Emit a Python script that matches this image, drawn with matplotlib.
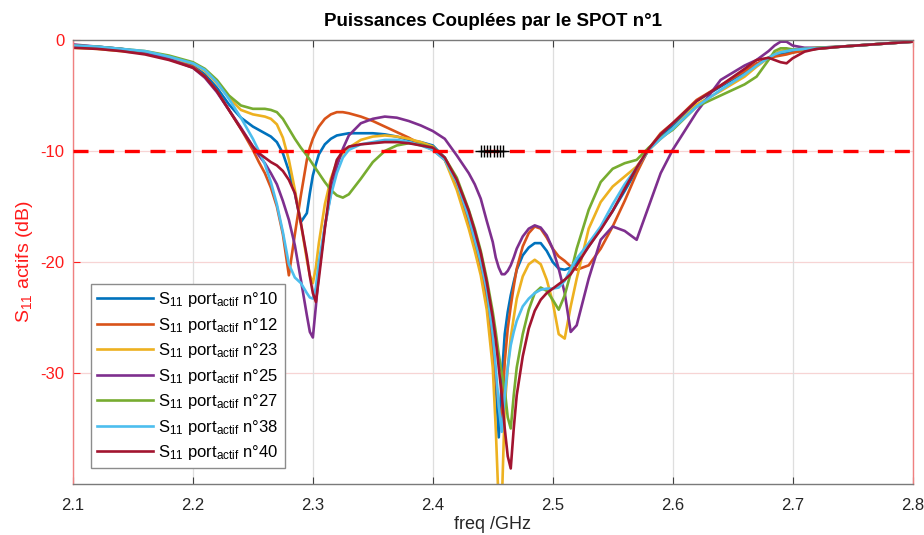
import matplotlib
matplotlib.use("Agg")
import matplotlib.pyplot as plt

plt.rcParams['font.family'] = ['Liberation Sans', 'DejaVu Sans']
plt.rcParams['mathtext.fontset'] = 'custom'
plt.rcParams['mathtext.rm'] = 'Liberation Sans'
plt.rcParams['mathtext.it'] = 'Liberation Sans:italic'
plt.rcParams['mathtext.bf'] = 'Liberation Sans:bold'

# Frequency points (GHz), denser around the resonances
freq = ([2.10, 2.12, 2.14, 2.16, 2.18, 2.20]
        + [2.21, 2.22, 2.23, 2.24, 2.25, 2.255, 2.26, 2.265, 2.27, 2.275, 2.28, 2.285, 2.29, 2.295, 2.2975]
        + [2.30, 2.3025, 2.305, 2.31, 2.315, 2.32, 2.325, 2.33, 2.34, 2.35, 2.36, 2.37, 2.38, 2.39, 2.40]
        + [2.41, 2.42, 2.43, 2.435, 2.44, 2.445, 2.45, 2.4525, 2.455, 2.4575, 2.46, 2.4625, 2.465, 2.4675]
        + [2.47, 2.475, 2.48, 2.485, 2.49, 2.495, 2.50, 2.505, 2.51, 2.515, 2.52]
        + [2.53, 2.54, 2.55, 2.56, 2.57, 2.58, 2.59, 2.60]
        + [2.62, 2.64, 2.66, 2.67, 2.68, 2.685, 2.69, 2.695, 2.70, 2.71, 2.72, 2.74, 2.76, 2.78, 2.80])

# Active S11 (dB) for each excited port
s11_p10 = ([-0.5, -0.6, -0.8, -1.1, -1.6, -2.3]
           + [-3.1, -4.3, -5.8, -7.0, -7.8, -8.1, -8.4, -8.7, -9.2, -10.2, -11.8, -13.8, -16.4, -15.6, -13.8]
           + [-12.2, -11.2, -10.3, -9.4, -8.9, -8.6, -8.5, -8.4, -8.4, -8.4, -8.5, -8.7, -9.0, -9.2, -9.5]
           + [-10.6, -12.8, -16.0, -18.0, -20.0, -22.8, -27.0, -31.0, -35.8, -30.5, -26.5, -24.5, -23.0, -21.8]
           + [-20.7, -19.4, -18.7, -18.3, -18.3, -19.0, -20.0, -20.6, -20.7, -20.5, -20.0]
           + [-18.6, -17.0, -15.4, -13.6, -11.7, -9.9, -8.7, -7.7]
           + [-5.5, -4.2, -2.9, -2.2, -1.6, -1.4, -1.3, -1.2, -1.1, -0.9, -0.8, -0.6, -0.45, -0.3, -0.15])

s11_p12 = ([-0.6, -0.7, -0.9, -1.2, -1.7, -2.4]
           + [-3.3, -4.6, -6.3, -8.0, -9.9, -11.0, -12.0, -13.3, -15.0, -17.5, -21.2, -17.5, -14.0, -10.8, -9.7]
           + [-8.9, -8.3, -7.8, -7.1, -6.7, -6.5, -6.5, -6.6, -6.9, -7.3, -7.8, -8.3, -8.8, -9.4, -9.9]
           + [-10.8, -13.0, -16.5, -18.5, -20.8, -23.8, -28.0, -30.5, -33.0, -34.3, -29.0, -26.0, -24.0, -22.2]
           + [-20.6, -18.6, -17.4, -16.8, -17.0, -17.8, -18.8, -19.5, -19.9, -20.4, -20.7]
           + [-20.3, -18.8, -16.8, -14.5, -12.0, -9.8, -8.4, -7.5]
           + [-5.4, -4.1, -2.8, -2.1, -1.7, -1.5, -1.4, -1.3, -1.15, -0.95, -0.8, -0.6, -0.45, -0.3, -0.15])

s11_p23 = ([-0.7, -0.8, -1.0, -1.2, -1.6, -2.1]
           + [-2.8, -3.9, -5.2, -6.3, -6.7, -6.8, -6.9, -7.1, -7.6, -8.8, -10.8, -13.5, -16.5, -19.8, -21.2]
           + [-21.9, -20.5, -18.3, -14.8, -12.5, -11.0, -10.2, -9.7, -9.0, -8.7, -8.6, -8.7, -8.9, -9.2, -9.6]
           + [-10.8, -13.5, -17.0, -19.0, -21.2, -24.3, -29.5, -35.0, -42.0, -42.0, -33.0, -29.5, -26.8, -25.0]
           + [-23.3, -21.3, -20.2, -19.8, -20.2, -21.6, -23.6, -26.5, -26.9, -24.0, -21.5]
           + [-17.0, -14.6, -13.2, -12.3, -11.4, -9.9, -8.9, -8.0]
           + [-5.8, -4.6, -3.3, -2.4, -1.6, -1.25, -1.0, -0.9, -0.85, -0.8, -0.75, -0.6, -0.45, -0.3, -0.15])

s11_p25 = ([-0.4, -0.6, -0.8, -1.1, -1.7, -2.5]
           + [-3.4, -4.7, -6.3, -7.9, -9.6, -10.4, -11.1, -12.0, -13.0, -14.5, -16.2, -18.5, -21.6, -24.8, -26.3]
           + [-26.8, -24.0, -21.0, -16.8, -13.8, -11.4, -9.8, -8.6, -7.5, -7.1, -6.9, -7.0, -7.3, -7.7, -8.2]
           + [-8.9, -10.4, -12.0, -13.0, -14.3, -16.3, -18.2, -19.6, -20.5, -21.1, -21.1, -20.8, -20.3, -19.6]
           + [-18.8, -17.7, -17.0, -16.7, -16.9, -17.6, -18.8, -20.6, -22.8, -26.3, -25.7]
           + [-21.5, -18.0, -16.8, -17.2, -18.0, -15.0, -12.0, -9.9]
           + [-6.5, -3.6, -2.3, -1.8, -1.0, -0.5, -0.15, -0.15, -0.5, -0.7, -0.7, -0.6, -0.45, -0.3, -0.15])

s11_p27 = ([-0.5, -0.6, -0.8, -1.0, -1.4, -2.0]
           + [-2.6, -3.6, -5.0, -5.9, -6.2, -6.2, -6.2, -6.3, -6.5, -7.1, -8.0, -8.9, -9.7, -10.4, -10.8]
           + [-11.2, -11.6, -12.0, -12.8, -13.5, -14.0, -14.2, -13.9, -12.5, -11.0, -10.0, -9.5, -9.3, -9.4, -9.7]
           + [-10.6, -12.4, -15.3, -17.0, -19.0, -21.5, -24.5, -26.3, -28.3, -30.0, -31.5, -34.0, -35.0, -32.0]
           + [-29.5, -26.5, -24.3, -22.8, -22.3, -22.6, -23.4, -24.3, -23.0, -21.0, -18.8]
           + [-15.3, -12.8, -11.6, -11.1, -10.8, -9.7, -8.8, -8.1]
           + [-6.0, -5.0, -4.0, -3.3, -1.8, -1.0, -0.75, -0.75, -0.85, -0.8, -0.7, -0.6, -0.45, -0.3, -0.15])

s11_p38 = ([-0.5, -0.6, -0.8, -1.0, -1.5, -2.1]
           + [-2.7, -3.8, -5.3, -7.0, -8.9, -10.0, -11.2, -12.8, -14.8, -17.3, -20.2, -21.4, -21.9, -22.8, -23.2]
           + [-23.3, -22.3, -20.0, -16.8, -14.0, -12.0, -10.6, -9.9, -9.4, -9.2, -9.0, -9.0, -9.2, -9.5, -9.9]
           + [-10.8, -12.8, -16.0, -18.0, -20.0, -22.5, -26.5, -29.5, -33.0, -35.3, -32.0, -29.5, -27.5, -26.3]
           + [-25.3, -24.0, -23.3, -22.8, -22.5, -22.4, -22.4, -22.3, -21.7, -20.6, -19.7]
           + [-18.3, -16.8, -14.8, -13.0, -11.5, -9.9, -8.9, -8.0]
           + [-6.0, -4.5, -3.1, -2.3, -1.6, -1.3, -1.1, -1.0, -0.9, -0.8, -0.75, -0.6, -0.45, -0.3, -0.15])

s11_p40 = ([-0.7, -0.8, -1.0, -1.3, -1.8, -2.5]
           + [-3.3, -4.6, -6.3, -8.0, -9.6, -10.2, -10.6, -11.0, -11.3, -11.8, -12.6, -13.8, -16.5, -19.5, -21.3]
           + [-22.8, -23.6, -21.5, -17.0, -12.8, -10.8, -10.0, -9.6, -9.4, -9.3, -9.2, -9.2, -9.3, -9.5, -9.7]
           + [-10.6, -12.6, -15.4, -17.2, -19.2, -21.8, -25.0, -27.0, -29.5, -32.0, -35.0, -37.5, -38.6, -35.0]
           + [-32.0, -28.5, -26.0, -24.4, -23.4, -22.8, -22.4, -22.0, -21.6, -21.1, -20.3]
           + [-18.6, -17.1, -15.4, -13.4, -11.5, -9.8, -8.5, -7.5]
           + [-5.5, -4.1, -2.6, -1.8, -1.6, -1.8, -2.0, -2.1, -1.65, -1.05, -0.8, -0.6, -0.45, -0.3, -0.15])

ports = ['10', '12', '23', '25', '27', '38', '40']
series = [s11_p10, s11_p12, s11_p23, s11_p25, s11_p27, s11_p38, s11_p40]
colors = ['#0072BD', '#D95319', '#EDB120', '#7E2F8E', '#77AC30', '#4DBEEE', '#A2142F']

# -10 dB matching threshold and the operating band markers
threshold_db = -10
band_freq = [2.44, 2.4427, 2.4454, 2.4481, 2.4508, 2.4535, 2.4562, 2.4589]

x_ticks = [2.1, 2.2, 2.3, 2.4, 2.5, 2.6, 2.7, 2.8]
y_ticks = [-30, -20, -10, 0]

W, H = 924, 535
fig = plt.figure(figsize=(W / 100, H / 100), dpi=100)
ax = fig.add_axes([73 / W, 1 - 484 / H, (912.5 - 73) / W, (484 - 40) / H])

for vals, col, port in zip(series, colors, ports):
    ax.plot(freq, vals, color=col, lw=1.9, solid_joinstyle='round',
            label=r'$\mathregular{S_{11}}$ $\mathregular{port_{actif}}$ n°' + port)

ax.axhline(threshold_db, color='#ff0000', lw=2.4, ls=(0, (4.5, 3.2)), zorder=5)
ax.plot(band_freq, [threshold_db] * len(band_freq), color='black', lw=1.0,
        marker='+', ms=9, mew=1.0, zorder=6)

ax.set_xlim(2.1, 2.8)
ax.set_ylim(-40, 0)
ax.set_xticks(x_ticks)
ax.set_xticklabels([f'{t:.1f}' for t in x_ticks])
ax.set_yticks(y_ticks)
ax.set_yticklabels([str(t) for t in y_ticks])

red = '#ff1a1a'
axis_gray = '#404040'
ax.xaxis.grid(True, color='#dedede', lw=0.9)
for t in (-10, -20, -30):
    ax.axhline(t, color='#f7d4d4', lw=0.9, zorder=0)
ax.set_axisbelow(True)

ax.tick_params(axis='x', direction='in', length=5, top=True, bottom=True,
               colors=axis_gray, labelsize=12, pad=10, labelcolor='#262626')
ax.tick_params(axis='y', direction='in', length=5, left=True, right=False,
               colors=red, labelsize=12, pad=6)
for side in ('top', 'bottom'):
    ax.spines[side].set_color('#7a7a7a')
    ax.spines[side].set_linewidth(1.0)
for side in ('left', 'right'):
    ax.spines[side].set_color('#f08080')
    ax.spines[side].set_linewidth(1.0)

ax.set_title('Puissances Couplées par le SPOT n°1', fontsize=13.5, fontweight='bold',
             color='black', pad=10)
ax.set_xlabel('freq /GHz', fontsize=13, color='#262626', labelpad=2)
ax.set_ylabel(r'$\mathregular{S_{11}}$ actifs (dB)', fontsize=14, color=red, labelpad=4)

leg = ax.legend(loc='lower left', bbox_to_anchor=(0.0214, 0.036), borderaxespad=0,
                fontsize=12, handlelength=3.4, handletextpad=0.3, labelspacing=0.39,
                borderpad=0.35, fancybox=False, framealpha=1)
leg.get_frame().set_edgecolor('#8c8c8c')
leg.get_frame().set_linewidth(1.0)

fig.savefig('out.png', dpi=100)
